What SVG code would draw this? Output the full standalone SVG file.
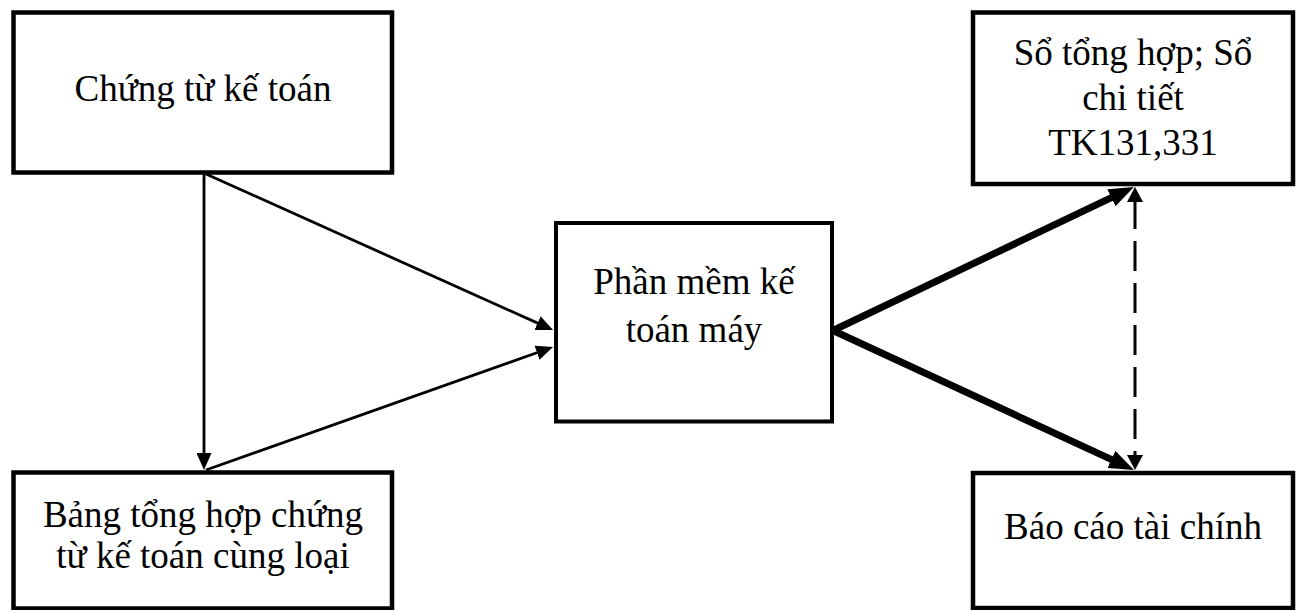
<svg xmlns="http://www.w3.org/2000/svg" width="1304" height="610" viewBox="0 0 1304 610">
<style>
.box{fill:#fff;stroke:#000;stroke-width:4.5}
.mid{fill:#fff;stroke:#000;stroke-width:4}
.t{font-family:"Liberation Serif","Times New Roman",serif;font-size:37px;fill:#000;text-anchor:middle}
.thin{stroke:#000;stroke-width:2.8;fill:none}
.thick{stroke:#000;stroke-width:7;fill:none}
.dash{stroke:#000;stroke-width:3;fill:none;stroke-dasharray:30 12}
</style>
<defs>
<marker id="aThin" markerUnits="userSpaceOnUse" markerWidth="17" markerHeight="15" viewBox="0 0 17 15" refX="5" refY="7.5" orient="auto"><path d="M0,0 L17,7.5 L0,15 z" fill="#000"/></marker>
<marker id="aThick" markerUnits="userSpaceOnUse" markerWidth="25" markerHeight="19" viewBox="0 0 25 19" refX="7" refY="9.5" orient="auto"><path d="M0,0 L25,9.5 L0,19 z" fill="#000"/></marker>
<marker id="aDash" markerUnits="userSpaceOnUse" markerWidth="15" markerHeight="16" viewBox="0 0 15 16" refX="3" refY="8" orient="auto-start-reverse"><path d="M0,0 L15,8 L0,16 z" fill="#000"/></marker>
</defs>
<g id="connectors">
<line class="thin" x1="204" y1="174" x2="204" y2="458" marker-end="url(#aThin)"/>
<line class="thin" x1="206" y1="174" x2="542.1" y2="325.1" marker-end="url(#aThin)"/>
<line class="thin" x1="206" y1="470" x2="541.7" y2="351" marker-end="url(#aThin)"/>
<line class="thick" x1="834" y1="330" x2="1117.7" y2="194.7" marker-end="url(#aThick)"/>
<line class="thick" x1="834" y1="331" x2="1117.7" y2="462.4" marker-end="url(#aThick)"/>
<line class="dash" x1="1135" y1="199" x2="1135" y2="458" marker-start="url(#aDash)" marker-end="url(#aDash)"/>
</g>
<g id="chung-tu">
<rect class="box" x="13.5" y="12.5" width="378.5" height="160"/>
<text class="t" x="203" y="101">Chứng từ kế toán</text>
</g>
<g id="bang-tong-hop">
<rect class="box" x="13.5" y="472.5" width="378.5" height="136"/>
<text class="t" x="203" y="527">Bảng tổng hợp chứng</text>
<text class="t" x="203" y="568">từ kế toán cùng loại</text>
</g>
<g id="phan-mem">
<rect class="mid" x="556" y="223" width="276" height="198.5"/>
<text class="t" x="694" y="294">Phần mềm kế</text>
<text class="t" x="694" y="342">toán máy</text>
</g>
<g id="so-tong-hop">
<rect class="box" x="973" y="12.5" width="320" height="171.5"/>
<text class="t" x="1133" y="65">Sổ tổng hợp; Sổ</text>
<text class="t" x="1133" y="110">chi tiết</text>
<text class="t" x="1133" y="155">TK131,331</text>
</g>
<g id="bao-cao">
<rect class="box" x="973" y="473" width="320" height="135"/>
<text class="t" x="1133" y="539">Báo cáo tài chính</text>
</g>
</svg>
